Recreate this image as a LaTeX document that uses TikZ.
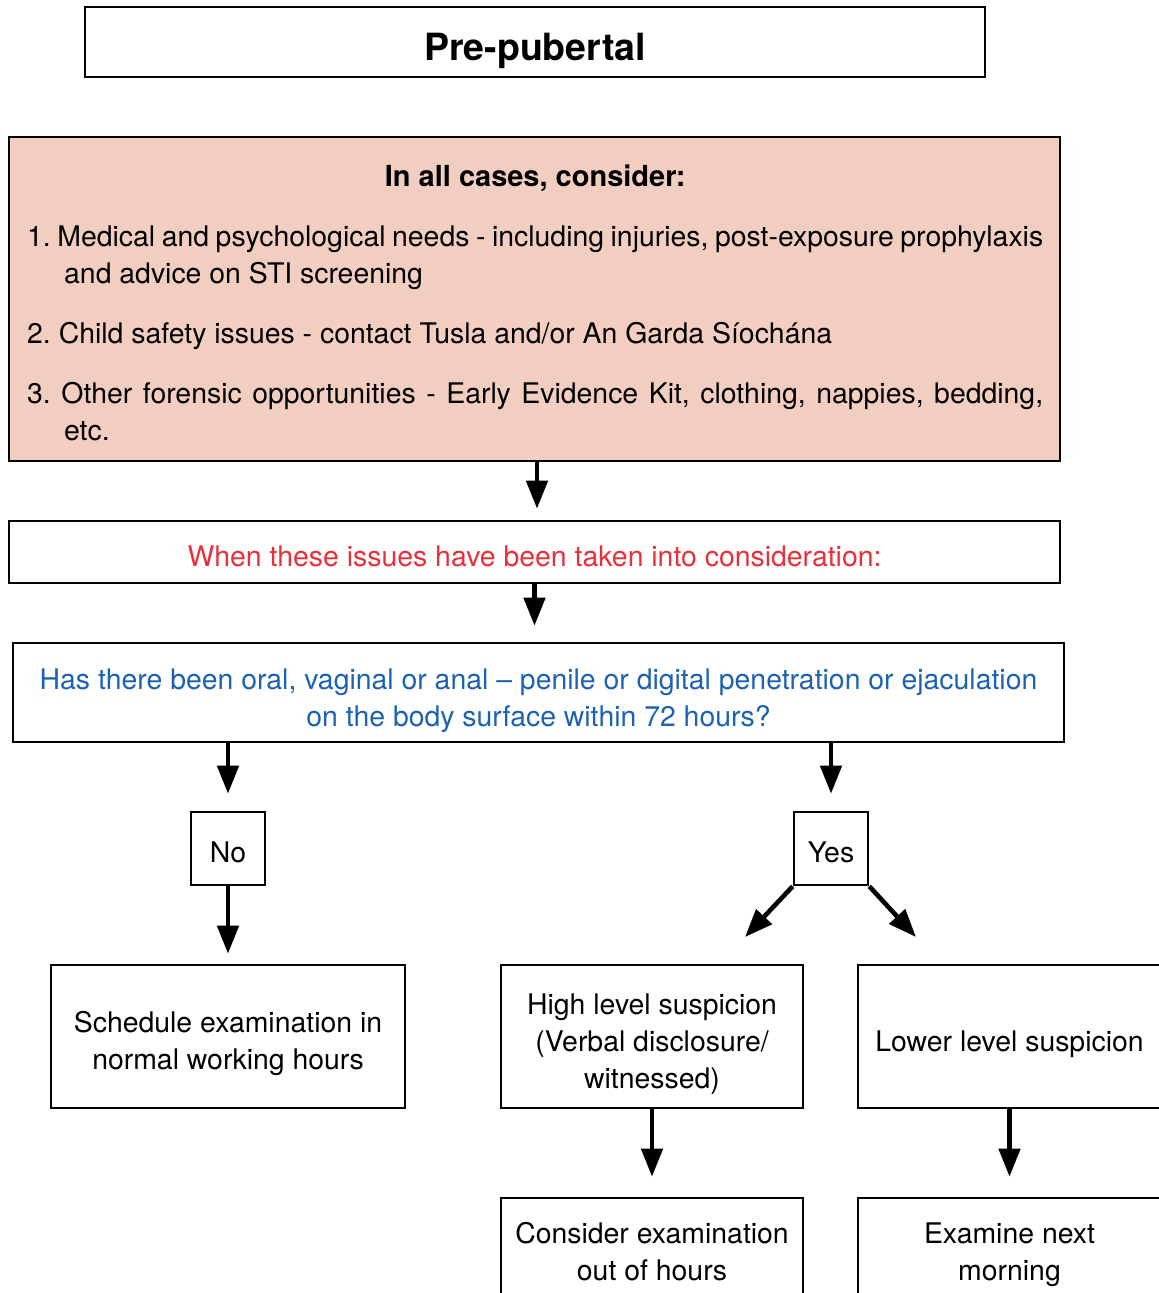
\documentclass[tikz,border=0pt]{standalone}
\usepackage{fontspec}
\setmainfont{TeX Gyre Heros}
\usetikzlibrary{arrows.meta}
\definecolor{caseFill}{RGB}{242,206,192}
\definecolor{noteRed}{RGB}{232,48,58}
\definecolor{askBlue}{RGB}{28,98,176}
\newcommand\txtbody{\fontsize{28.4}{37}\selectfont}
% centred lines, set a little lower inside their box
\newcommand\lowered[2]{\raisebox{-#1}[\height][\depth]{\begin{tabular}{@{}c@{}}#2\end{tabular}}}
\begin{document}
\begin{tikzpicture}[x=1pt,y=-1pt,
  box/.style={draw=black, line width=2.6pt, inner sep=0pt, font=\txtbody},
  flow/.style={line width=4.6pt, -{Triangle[length=28pt,width=21pt]}},
]
\useasboundingbox (0,0) rectangle (1159,1293);

% heading
\node[box, minimum width=900pt, minimum height=70pt,
      font=\bfseries\fontsize{37.5}{40}\selectfont] (title) at (535,42) {\lowered{10pt}{Pre-pubertal}};

% considerations
\node[box, fill=caseFill, minimum width=1051pt, minimum height=324pt] (cases) at (534.5,299) {};
\node[anchor=base west, inner sep=0pt, text width=1016pt, align=justify,
      font=\txtbody] (caseText) at (27,186) {%
  \setlength{\parskip}{23pt}\hyphenpenalty=10000 \tolerance=9000 \frenchspacing
  {\centering\bfseries\fontsize{29}{37}\selectfont In all cases, consider:\par}
  \hangindent=37pt\hangafter=1 1. Medical and psychological needs - including injuries, post-exposure prophylaxis\linebreak and advice on STI screening\par
  \hangindent=37pt\hangafter=1 2. Child safety issues - contact Tusla and/or An Garda Síochána\par
  \hangindent=37pt\hangafter=1 3. Other forensic opportunities - Early Evidence Kit, clothing, nappies, bedding,\linebreak etc.\par};

\node[box, text=noteRed, minimum width=1051pt, minimum height=62pt] (red) at (534.5,552)
  {\lowered{7pt}{When these issues have been taken into consideration:}};

\node[box, text=askBlue, minimum width=1051pt, minimum height=99pt] (blue) at (538.5,692.5)
  {\lowered{8.5pt}{Has there been oral, vaginal or anal – penile or digital penetration or ejaculation\\on the body surface within 72 hours?}};

\node[box, minimum width=74pt, minimum height=73pt] (no) at (228,848.5) {\lowered{7pt}{No}};
\node[box, minimum width=74pt, minimum height=73pt] (yes) at (831,848.5) {\lowered{7pt}{Yes}};

\node[box, minimum width=354pt, minimum height=143pt] (sched) at (228,1036.5)
  {\lowered{7.5pt}{Schedule examination in\\normal working hours}};
\node[box, minimum width=302pt, minimum height=143pt] (high) at (652,1036.5)
  {\lowered{7.5pt}{High level suspicion\\(Verbal disclosure/\\witnessed)}};
\node[box, minimum width=303pt, minimum height=143pt] (lower) at (1009.5,1036.5)
  {\lowered{8pt}{Lower level suspicion}};
\node[box, minimum width=302pt, minimum height=107pt] (consider) at (652,1251.5)
  {\lowered{2.6pt}{Consider examination\\out of hours}};
\node[box, minimum width=303pt, minimum height=107pt] (examine) at (1009.5,1251.5)
  {\lowered{2.6pt}{Examine next\\morning}};

\coordinate (yesL) at (745,937);
\coordinate (yesR) at (916,937);

% connectors
\draw[flow, shorten >=11pt] ([xshift=2.5pt]cases.south) -- ([xshift=2.5pt]red.north);
\draw[flow, shorten >=16pt] (red.south) -- (red.south |- blue.north);
\draw[flow, shorten >=17pt] (no.north |- blue.south) -- (no.north);
\draw[flow, shorten >=17pt] (yes.north |- blue.south) -- (yes.north);
\draw[flow, shorten >=10pt] (no.south) -- (no.south |- sched.north);
\draw[flow] (yes.south west) -- (yesL);
\draw[flow] (yes.south east) -- (yesR);
\draw[flow, shorten >=20pt] (high.south) -- (consider.north);
\draw[flow, shorten >=20pt] (lower.south) -- (examine.north);
\end{tikzpicture}
\end{document}
